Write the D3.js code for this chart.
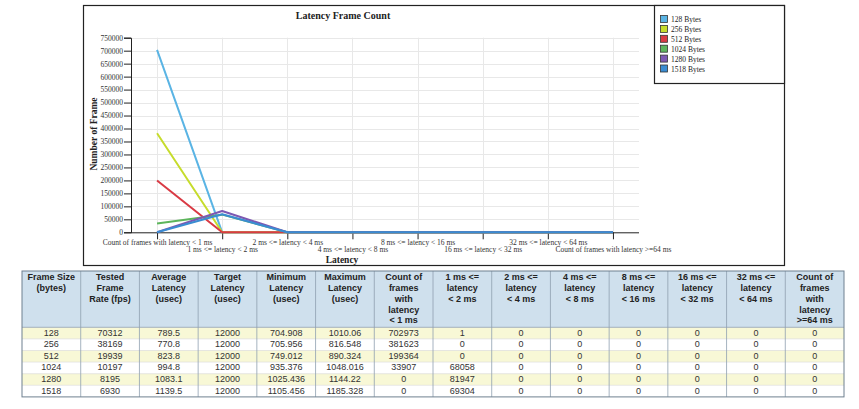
<!DOCTYPE html>
<html>
<head>
<meta charset="utf-8">
<script src="https://cdn.jsdelivr.net/npm/d3@7/dist/d3.min.js"></script>
<style>
  html, body { margin: 0; padding: 0; background: #fff; }
  svg { display: block; }
</style>
</head>
<body>
<svg id="chart" width="859" height="409"></svg>
<script>
// ---------------- DATA ----------------
const latencyBins = [
  "Count of frames with latency < 1 ms",
  "1 ms <= latency < 2 ms",
  "2 ms <= latency < 4 ms",
  "4 ms <= latency < 8 ms",
  "8 ms <= latency < 16 ms",
  "16 ms <= latency < 32 ms",
  "32 ms <= latency < 64 ms",
  "Count of frames with latency >=64 ms"
];
const seriesNames = ["128 Bytes", "256 Bytes", "512 Bytes", "1024 Bytes", "1280 Bytes", "1518 Bytes"];
const frameSizes = [128, 256, 512, 1024, 1280, 1518];
const testedRate = [70312, 38169, 19939, 10197, 8195, 6930];
const avgLatency = ["789.5", "770.8", "823.8", "994.8", "1083.1", "1139.5"];
const targetLatency = [12000, 12000, 12000, 12000, 12000, 12000];
const minLatency = ["704.908", "705.956", "749.012", "935.376", "1025.436", "1105.456"];
const maxLatency = ["1010.06", "816.548", "890.324", "1048.016", "1144.22", "1185.328"];
const counts128  = [702973, 1, 0, 0, 0, 0, 0, 0];
const counts256  = [381623, 0, 0, 0, 0, 0, 0, 0];
const counts512  = [199364, 0, 0, 0, 0, 0, 0, 0];
const counts1024 = [33907, 68058, 0, 0, 0, 0, 0, 0];
const counts1280 = [0, 81947, 0, 0, 0, 0, 0, 0];
const counts1518 = [0, 69304, 0, 0, 0, 0, 0, 0];
const yTicks = [0, 50000, 100000, 150000, 200000, 250000, 300000, 350000, 400000, 450000, 500000, 550000, 600000, 650000, 700000, 750000];
const tableHeaders = [
  ["Frame Size", "(bytes)"],
  ["Tested", "Frame", "Rate (fps)"],
  ["Average", "Latency", "(usec)"],
  ["Target", "Latency", "(usec)"],
  ["Minimum", "Latency", "(usec)"],
  ["Maximum", "Latency", "(usec)"],
  ["Count of", "frames", "with", "latency", "< 1 ms"],
  ["1 ms <=", "latency", "< 2 ms"],
  ["2 ms <=", "latency", "< 4 ms"],
  ["4 ms <=", "latency", "< 8 ms"],
  ["8 ms <=", "latency", "< 16 ms"],
  ["16 ms <=", "latency", "< 32 ms"],
  ["32 ms <=", "latency", "< 64 ms"],
  ["Count of", "frames", "with", "latency", ">=64 ms"]
];

// ---------------- SETUP ----------------
const seriesCounts = [counts128, counts256, counts512, counts1024, counts1280, counts1518];
const colors = ["#5ab4e4", "#c6dc2c", "#d93a44", "#5db55c", "#7d58b2", "#3a8cd2"];
const series = seriesNames.map((n, i) => ({ name: n, color: colors[i], values: seriesCounts[i] }));

const svg = d3.select("#chart");
const serif = "'Liberation Serif', 'Times New Roman', serif";
const sans = "'Liberation Sans', Arial, sans-serif";

// outer box
svg.append("rect").attr("x", 83.5).attr("y", 5.5).attr("width", 701).attr("height", 260)
  .attr("fill", "#fff").attr("stroke", "#222").attr("stroke-width", 1.2);

const plot = { left: 131, right: 639, top: 37.7, bottom: 232.3 };
const x = d3.scalePoint().domain(latencyBins).range([plot.left, plot.right]).padding(0.4);
const y = d3.scaleLinear().domain([0, 750000]).range([plot.bottom, plot.top]);

// grid
const grid = svg.append("g");
grid.selectAll("line.h").data(yTicks.filter(d => d > 0)).join("line")
  .attr("x1", plot.left).attr("x2", plot.right)
  .attr("y1", d => Math.round(y(d)) + 0.5).attr("y2", d => Math.round(y(d)) + 0.5)
  .attr("stroke", "#e8e8e8").attr("stroke-width", 1);
grid.selectAll("line.v").data(latencyBins).join("line")
  .attr("x1", d => Math.round(x(d)) + 0.5).attr("x2", d => Math.round(x(d)) + 0.5)
  .attr("y1", plot.top).attr("y2", plot.bottom)
  .attr("stroke", "#e8e8e8").attr("stroke-width", 1);

// y axis
const yAxis = svg.append("g").attr("transform", `translate(${plot.left},0)`)
  .call(d3.axisLeft(y).tickValues(yTicks).tickSize(7).tickPadding(1).tickFormat(d3.format("d")));
yAxis.select(".domain").attr("stroke", "#222");
yAxis.selectAll(".tick line").attr("stroke", "#222");
yAxis.selectAll("text").attr("font-family", serif).attr("font-size", 7.5).attr("fill", "#333");

// x axis
const xAxis = svg.append("g").attr("transform", `translate(0,${plot.bottom})`)
  .call(d3.axisBottom(x).tickSize(7).tickSizeOuter(0));
xAxis.select(".domain").attr("stroke", "#222").attr("d", `M${plot.left},0.5H${plot.right}`);
xAxis.selectAll(".tick line").attr("stroke", "#222");
xAxis.selectAll("text")
  .attr("font-family", serif).attr("font-size", 7.5).attr("fill", "#333")
  .attr("dy", null)
  .attr("y", (d, i) => i % 2 === 0 ? 12.8 : 19.6);

// lines
const line = d3.line().x((d, i) => x(latencyBins[i])).y(d => y(d));
svg.append("g").selectAll("path").data(series).join("path")
  .attr("d", d => line(d.values))
  .attr("fill", "none").attr("stroke", d => d.color).attr("stroke-width", 2)
  .attr("stroke-linejoin", "round");

// titles
svg.append("text").attr("x", 343).attr("y", 18.5).attr("text-anchor", "middle")
  .attr("font-family", serif).attr("font-weight", "bold").attr("font-size", 10).attr("fill", "#222")
  .text("Latency Frame Count");
svg.append("text").attr("x", 342).attr("y", 262.5).attr("text-anchor", "middle")
  .attr("font-family", serif).attr("font-weight", "bold").attr("font-size", 9.5).attr("fill", "#222")
  .text("Latency");
svg.append("text").attr("transform", "translate(96.5,134) rotate(-90)").attr("text-anchor", "middle")
  .attr("font-family", serif).attr("font-weight", "bold").attr("font-size", 9.5).attr("fill", "#222")
  .text("Number of Frame");

// legend
svg.append("rect").attr("x", 654.5).attr("y", 5.5).attr("width", 130).attr("height", 78)
  .attr("fill", "#fff").attr("stroke", "#222").attr("stroke-width", 1.2);
const lg = svg.append("g").selectAll("g").data(series).join("g")
  .attr("transform", (d, i) => `translate(660,${15 + i * 9.9})`);
lg.append("rect").attr("x", 0.5).attr("y", 0.5).attr("width", 7).attr("height", 7)
  .attr("fill", d => d.color).attr("stroke", "#333").attr("stroke-width", 0.8);
lg.append("text").attr("x", 11).attr("y", 7).attr("font-family", serif).attr("font-size", 7.5)
  .attr("fill", "#222").text(d => d.name);

// ---------------- TABLE ----------------
const tbl = { left: 22, right: 844, top: 271, headH: 56.3, rowH: 11.6 };
const colW = (tbl.right - tbl.left) / tableHeaders.length;
const rows = frameSizes.map((fs, i) => [fs, testedRate[i], avgLatency[i], targetLatency[i], minLatency[i], maxLatency[i]].concat(seriesCounts[i]));
const tg = svg.append("g");
const bodyTop = tbl.top + tbl.headH;
const bottom = bodyTop + rows.length * tbl.rowH;

tg.append("rect").attr("x", tbl.left).attr("y", tbl.top).attr("width", tbl.right - tbl.left).attr("height", tbl.headH)
  .attr("fill", "#cfe0ed");
tg.selectAll("rect.row").data(rows).join("rect")
  .attr("x", tbl.left).attr("y", (d, i) => bodyTop + i * tbl.rowH)
  .attr("width", tbl.right - tbl.left).attr("height", tbl.rowH)
  .attr("fill", (d, i) => i % 2 === 0 ? "#f8f8d6" : "#ffffff");
// horizontal row lines
tg.selectAll("line.hr").data(d3.range(1, rows.length)).join("line")
  .attr("x1", tbl.left).attr("x2", tbl.right)
  .attr("y1", d => bodyTop + d * tbl.rowH).attr("y2", d => bodyTop + d * tbl.rowH)
  .attr("stroke", "#d8d8d8").attr("stroke-width", 0.6);
// vertical column lines
tg.selectAll("line.vc").data(d3.range(1, tableHeaders.length)).join("line")
  .attr("x1", d => tbl.left + d * colW).attr("x2", d => tbl.left + d * colW)
  .attr("y1", tbl.top).attr("y2", bottom)
  .attr("stroke", "#8f9fb0").attr("stroke-width", 0.8);
tg.append("line").attr("x1", tbl.left).attr("x2", tbl.right).attr("y1", bodyTop).attr("y2", bodyTop)
  .attr("stroke", "#8f9fb0").attr("stroke-width", 0.8);
tg.append("rect").attr("x", tbl.left).attr("y", tbl.top).attr("width", tbl.right - tbl.left).attr("height", bottom - tbl.top)
  .attr("fill", "none").attr("stroke", "#6f8090").attr("stroke-width", 1);

// header text
const hg = tg.selectAll("text.h").data(tableHeaders).join("text")
  .attr("x", (d, i) => tbl.left + (i + 0.5) * colW).attr("y", tbl.top + 9.2)
  .attr("text-anchor", "middle").attr("font-family", sans).attr("font-weight", "bold")
  .attr("font-size", 9).attr("fill", "#222");
hg.selectAll("tspan").data(d => d).join("tspan")
  .attr("x", function () { return this.parentNode.getAttribute("x"); })
  .attr("dy", (d, i) => i === 0 ? 0 : 10.8).text(d => d);

// body text
tg.selectAll("g.r").data(rows).join("g")
  .attr("transform", (d, i) => `translate(0,${bodyTop + i * tbl.rowH + 8.3})`)
  .selectAll("text").data(d => d).join("text")
  .attr("x", (d, j) => tbl.left + (j + 0.5) * colW).attr("y", 0)
  .attr("text-anchor", "middle").attr("font-family", sans).attr("font-size", 9)
  .attr("fill", "#333").text(d => d);
</script>
</body>
</html>
